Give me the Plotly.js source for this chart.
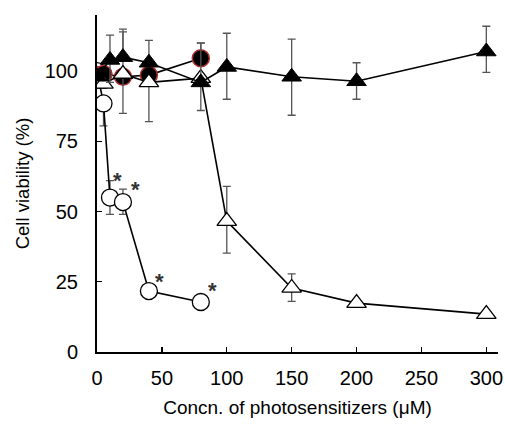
<!DOCTYPE html>
<html>
<head>
<meta charset="utf-8">
<script src="https://cdn.plot.ly/plotly-3.0.1.min.js"></script>
<style>html,body{margin:0;padding:0;background:#fff;}#chart{width:505px;height:427px;}</style>
</head>
<body>
<div id="chart"></div>
<script>
// Open circles
const circX = [0, 5, 10, 20, 40, 80];
const circY = [100, 88.5, 55, 53.4, 21.7, 17.8];
const circErrPlus = [0, 0, 6, 4.6, 0, 0];
const circErrMinus = [0, 8, 6, 4.4, 0, 0];
// Filled circles (dark red edge)
const fcircX = [0, 5, 20, 40, 80];
const fcircY = [98.6, 99, 98, 98.6, 104.6];
const fcircErrPlus = [0, 0, 0, 0, 5.5];
const fcircErrMinus = [0, 0, 0, 0, 0];
// Open triangles
const otriX = [0, 5, 20, 40, 80, 100, 150, 200, 300];
const otriY = [95.5, 95.5, 99, 96, 97.5, 46.6, 22.8, 17.4, 13.5];
const otriErrPlus = [0, 0, 16, 0, 0, 12.4, 5, 0, 0];
const otriErrMinus = [0, 0, 14, 14, 0, 11.4, 4.8, 0, 0];
// Filled triangles
const ftriX = [0, 10, 20, 40, 80, 100, 150, 200, 300];
const ftriY = [98, 104, 105, 103, 96, 101.5, 98, 96.4, 107];
const ftriErrPlus = [0, 8.8, 9, 8, 14, 12, 13.4, 6.6, 9];
const ftriErrMinus = [0, 8, 0, 0, 10, 11.5, 13.7, 6.4, 7.4];
// Significance asterisks
const starX = [15.5, 29.5, 48, 89];
const starY = [61, 58, 25, 22];
const starText = ['*', '*', '*', '*'];

const xTicks = [0, 50, 100, 150, 200, 250, 300];
const yTicks = [0, 25, 50, 75, 100];

function err(plus, minus) {
  return {type: 'data', symmetric: false, array: plus, arrayminus: minus,
          color: '#555', thickness: 1.3, width: 4};
}

const traces = [
  {x: circX, y: circY, mode: 'lines+markers', type: 'scatter',
   line: {color: '#000', width: 1.6},
   marker: {symbol: 'circle', size: 17, color: '#fff', line: {color: '#000', width: 1.3}},
   error_y: err(circErrPlus, circErrMinus)},
  {x: fcircX, y: fcircY, mode: 'lines+markers', type: 'scatter',
   line: {color: '#000', width: 1.6},
   marker: {symbol: 'circle', size: 17, color: '#000', line: {color: '#b03030', width: 1.5}},
   error_y: err(fcircErrPlus, fcircErrMinus)},
  {x: otriX, y: otriY, mode: 'lines+markers', type: 'scatter',
   line: {color: '#000', width: 1.6},
   marker: {symbol: 'triangle-up', size: 17, color: '#fff', line: {color: '#000', width: 1.3}},
   error_y: err(otriErrPlus, otriErrMinus)},
  {x: ftriX, y: ftriY, mode: 'lines+markers', type: 'scatter',
   line: {color: '#000', width: 1.6},
   marker: {symbol: 'triangle-up', size: 17, color: '#000', line: {color: '#000', width: 1}},
   error_y: err(ftriErrPlus, ftriErrMinus)}
];

const annotations = starX.map((x, i) => ({
  x: x, y: starY[i], text: '<b>' + starText[i] + '</b>', showarrow: false,
  font: {family: 'Liberation Sans, Arial, sans-serif', size: 22, color: '#333'}
}));

const layout = {
  width: 505, height: 427,
  margin: {l: 97, r: 7, t: 15, b: 75},
  paper_bgcolor: '#fff', plot_bgcolor: '#fff',
  showlegend: false,
  font: {family: 'Liberation Sans, Arial, sans-serif', color: '#000'},
  xaxis: {
    range: [0, 309], tickvals: xTicks, ticktext: xTicks.map(String),
    ticks: 'inside', ticklen: 5, tickwidth: 1.3, tickcolor: '#000',
    showline: true, linecolor: '#000', linewidth: 2, showgrid: false, zeroline: false,
    tickfont: {size: 20}, ticklabelstandoff: 7,
    title: {text: 'Concn. of photosensitizers (\u03bcM)', font: {size: 19}, standoff: 13}
  },
  yaxis: {
    range: [0, 120], tickvals: yTicks, ticktext: yTicks.map(String),
    ticks: 'inside', ticklen: 5, tickwidth: 1.3, tickcolor: '#000',
    showline: true, linecolor: '#000', linewidth: 2, showgrid: false, zeroline: false,
    tickfont: {size: 20}, ticklabelstandoff: 13,
    title: {text: 'Cell viability (%)', font: {size: 18.5}, standoff: 10}
  },
  annotations: annotations
};

Plotly.newPlot('chart', traces, layout, {displayModeBar: false, staticPlot: true});
</script>
</body>
</html>
